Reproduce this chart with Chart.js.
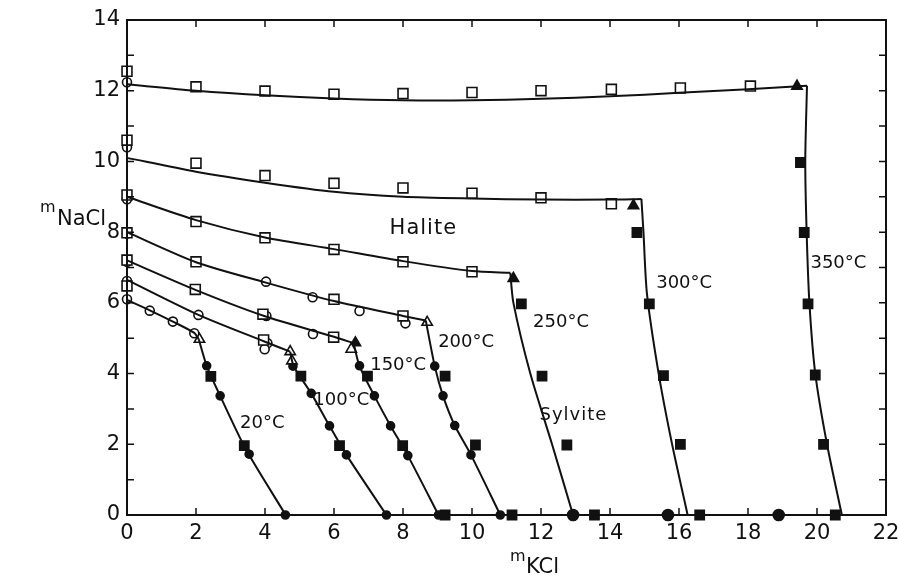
<!DOCTYPE html>
<html>
<head>
<meta charset="utf-8">
<script src="https://cdn.jsdelivr.net/npm/chart.js@4/dist/chart.umd.min.js"></script>
<style>
  html, body { margin: 0; padding: 0; background: #fff; }
  #wrap { width: 899px; height: 578px; }
</style>
</head>
<body>
<div id="wrap"><canvas id="solubilityChart"></canvas></div>
<script>
// axis ranges / ticks
const xTickValues = [0, 2, 4, 6, 8, 10, 12, 14, 16, 18, 20, 22];
const yTickValues = [0, 1, 2, 3, 4, 5, 6, 7, 8, 9, 10, 11, 12, 13, 14];

// model curves, halite-saturated branches [mKCl, mNaCl]
const halite20 = [[0, 6.08], [0.66, 5.79], [1.33, 5.47], [1.95, 5.15], [2.08, 4.97]];
const halite100 = [[0, 6.65], [2.07, 5.66], [4, 4.9], [4.73, 4.62]];
const halite150 = [[0, 7.2], [2, 6.36], [4, 5.62], [6, 5.04], [6.57, 4.86]];
const halite200 = [[0, 8.0], [2, 7.15], [4, 6.58], [6, 6.05], [8, 5.63], [8.66, 5.5]];
const halite250 = [[0, 9.0], [2, 8.34], [4, 7.85], [6, 7.52], [8, 7.18], [10, 6.9], [11.11, 6.85]];
const halite300 = [[0, 10.1], [2, 9.71], [4, 9.4], [6, 9.14], [8, 9.0], [10, 8.95], [12, 8.92], [14, 8.92], [14.91, 8.94]];
const halite350 = [[0, 12.18], [2, 12.0], [4, 11.87], [6, 11.78], [8, 11.73], [10, 11.73], [12, 11.77], [14, 11.84], [16, 11.94], [18, 12.04], [19.71, 12.14]];

// model curves, sylvite-saturated branches
const sylvite20 = [[2.08, 4.97], [2.31, 4.22], [2.7, 3.37], [3.45, 1.85], [4.6, 0]];
const sylvite100 = [[4.73, 4.62], [4.83, 4.21], [5.34, 3.44], [5.87, 2.52], [6.36, 1.7], [7.52, 0]];
const sylvite150 = [[6.57, 4.86], [6.74, 4.21], [7.17, 3.37], [7.64, 2.52], [8.14, 1.68], [9.03, 0]];
const sylvite200 = [[8.66, 5.5], [8.92, 4.21], [9.16, 3.37], [9.5, 2.53], [9.97, 1.7], [10.82, 0]];
const sylvite250 = [[11.11, 6.85], [11.2, 6.0], [11.69, 4], [12.32, 2], [12.93, 0]];
const sylvite300 = [[14.91, 8.94], [14.97, 8], [15.07, 6.27], [15.41, 4], [15.8, 2], [16.25, 0]];
const sylvite350 = [[19.71, 12.14], [19.66, 10], [19.7, 8], [19.78, 6], [19.95, 4], [20.29, 2], [20.72, 0]];

// experimental points
const openSquares = [
  [0, 12.55], [0, 10.6], [0, 9.05], [0, 7.98], [0, 7.21], [0, 6.48],
  [2, 12.11], [4, 11.99], [6, 11.9], [8, 11.92], [10, 11.95], [12, 12.0], [14.04, 12.04], [16.04, 12.08], [18.07, 12.13],
  [2, 9.95], [4, 9.6], [6, 9.38], [8, 9.25], [10, 9.1], [12, 8.97], [14.04, 8.8],
  [2, 8.3], [4, 7.84], [6, 7.51], [8, 7.16], [10, 6.88],
  [2, 7.16], [6, 6.1], [8, 5.63],
  [1.98, 6.38], [3.94, 5.68], [5.99, 5.03],
  [3.96, 4.95]
];
const openCircles = [
  [0, 12.24], [0, 10.4], [0, 8.93], [0, 7.96], [0, 7.16], [0, 6.62], [0, 6.1],
  [0.66, 5.78], [1.33, 5.47], [1.95, 5.14],
  [2.07, 5.66], [4.07, 4.86], [3.99, 4.69],
  [4.04, 5.63], [5.39, 5.12],
  [4.03, 6.6], [5.38, 6.16], [6.74, 5.77], [8.07, 5.42]
];
const openTriangles = [[2.1, 4.97], [4.73, 4.62], [4.78, 4.36], [6.5, 4.69], [8.7, 5.45]];
const filledTriangles = [[6.62, 4.87], [11.2, 6.69], [14.68, 8.75], [19.42, 12.13]];
const filledCircles = [
  [2.31, 4.22], [2.7, 3.37], [3.54, 1.72], [4.59, 0],
  [4.81, 4.21], [5.34, 3.44], [5.87, 2.52], [6.36, 1.7], [7.52, 0],
  [6.74, 4.22], [7.17, 3.37], [7.64, 2.52], [8.14, 1.68], [9.03, 0],
  [8.92, 4.21], [9.16, 3.37], [9.5, 2.53], [9.97, 1.7], [10.82, 0]
];
const bigCircles = [[12.93, 0], [15.68, 0], [18.89, 0]];
const filledSquares = [
  [2.43, 3.92], [3.4, 1.96],
  [5.04, 3.93], [6.16, 1.96],
  [6.97, 3.93], [7.99, 1.96], [9.22, 0],
  [9.22, 3.93], [10.1, 1.98], [11.16, 0],
  [11.43, 5.97], [12.03, 3.93], [12.75, 1.98], [13.55, 0],
  [14.78, 7.99], [15.14, 5.97], [15.55, 3.94], [16.04, 2.0], [16.6, 0],
  [19.52, 9.97], [19.63, 7.99], [19.74, 5.97], [19.95, 3.96], [20.19, 2.0], [20.53, 0]
];

// text in the plot
const labelText = ['Halite', 'Sylvite', '20°C', '100°C', '150°C', '200°C', '250°C', '300°C', '350°C'];
const labelX = [8.59, 12.94, 3.92, 6.21, 7.86, 9.83, 12.58, 16.15, 20.62];
const labelY = [8.09, 2.83, 2.6, 3.25, 4.24, 4.89, 5.46, 6.56, 7.13];
const labelSize = [21, 18, 18, 18, 18, 18, 18, 18, 18];

const FONT = '"DejaVu Sans", sans-serif';
const toPts = arr => arr.map(p => ({ x: p[0], y: p[1] }));

const curves = [halite20, halite100, halite150, halite200, halite250, halite300, halite350,
  sylvite20, sylvite100, sylvite150, sylvite200, sylvite250, sylvite300, sylvite350];

const curveSets = curves.map(c => ({
  data: toPts(c),
  showLine: true,
  borderColor: '#111',
  borderWidth: 2,
  pointRadius: 0,
  tension: 0.25,
  clip: false
}));

function markers(arr, style, radius, filled) {
  return {
    data: toPts(arr),
    showLine: false,
    pointStyle: style,
    pointRadius: radius,
    pointBorderWidth: 1.6,
    pointBorderColor: '#111',
    pointBackgroundColor: filled ? '#111' : '#fff',
    clip: false
  };
}

const frameAndText = {
  id: 'frameAndText',
  afterDraw(chart) {
    const ctx = chart.ctx;
    const xs = chart.scales.x, ys = chart.scales.y;
    const a = chart.chartArea;
    ctx.save();
    ctx.strokeStyle = '#111';
    ctx.lineWidth = 2;
    ctx.strokeRect(a.left, a.top, a.right - a.left, a.bottom - a.top);
    ctx.lineWidth = 1.5;
    ctx.beginPath();
    yTickValues.forEach(v => {
      const py = ys.getPixelForValue(v);
      ctx.moveTo(a.left, py); ctx.lineTo(a.left + 7, py);
      ctx.moveTo(a.right, py); ctx.lineTo(a.right - 7, py);
    });
    xTickValues.forEach(v => {
      const px = xs.getPixelForValue(v);
      ctx.moveTo(px, a.top); ctx.lineTo(px, a.top + 7);
      ctx.moveTo(px, a.bottom); ctx.lineTo(px, a.bottom - 7);
    });
    ctx.stroke();

    ctx.fillStyle = '#111';
    ctx.textAlign = 'center';
    ctx.textBaseline = 'middle';
    labelText.forEach((t, i) => {
      ctx.font = labelSize[i] + 'px ' + FONT;
      ctx.letterSpacing = i < 2 ? '1px' : '0px';
      ctx.fillText(t, xs.getPixelForValue(labelX[i]), ys.getPixelForValue(labelY[i]));
    });
    ctx.letterSpacing = '0px';

    // axis titles with subscripts
    ctx.textAlign = 'left';
    ctx.font = '16px ' + FONT;
    ctx.fillText('m', 40, 208);
    ctx.fillText('m', 510, 557);
    ctx.font = '21px ' + FONT;
    ctx.fillText('NaCl', 57, 220);
    ctx.fillText('KCl', 526, 568);
    ctx.restore();
  }
};

new Chart(document.getElementById('solubilityChart'), {
  type: 'scatter',
  data: {
    datasets: [
      ...curveSets,
      markers(openSquares, 'rect', 7, false),
      markers(openCircles, 'circle', 4.5, false),
      markers(openTriangles, 'triangle', 6, false),
      markers(filledTriangles, 'triangle', 6, true),
      markers(filledCircles, 'circle', 4, true),
      markers(bigCircles, 'circle', 5.5, true),
      markers(filledSquares, 'rect', 6.5, true)
    ]
  },
  options: {
    responsive: true,
    maintainAspectRatio: false,
    animation: false,
    layout: { padding: { left: 0, right: 13, top: 20, bottom: 0 } },
    plugins: { legend: { display: false }, tooltip: { enabled: false } },
    scales: {
      x: {
        type: 'linear', min: 0, max: 22,
        afterBuildTicks: s => { s.ticks = xTickValues.map(v => ({ value: v })); },
        afterFit: s => { s.height = 63; s.paddingLeft = 0; s.paddingRight = 0; },
        grid: { display: false, drawTicks: false, tickLength: 0 },
        border: { display: false },
        ticks: { color: '#111', font: { family: FONT, size: 21 }, padding: 6, maxRotation: 0 }
      },
      y: {
        type: 'linear', min: 0, max: 14,
        afterBuildTicks: s => { s.ticks = yTickValues.map(v => ({ value: v })); },
        afterFit: s => { s.width = 127; s.paddingTop = 0; s.paddingBottom = 0; },
        grid: { display: false, drawTicks: false, tickLength: 0 },
        border: { display: false },
        ticks: {
          color: '#111', font: { family: FONT, size: 21 }, padding: 7,
          callback: v => (v % 2 === 0 ? String(v) : '')
        }
      }
    }
  },
  plugins: [frameAndText]
});
</script>
</body>
</html>
